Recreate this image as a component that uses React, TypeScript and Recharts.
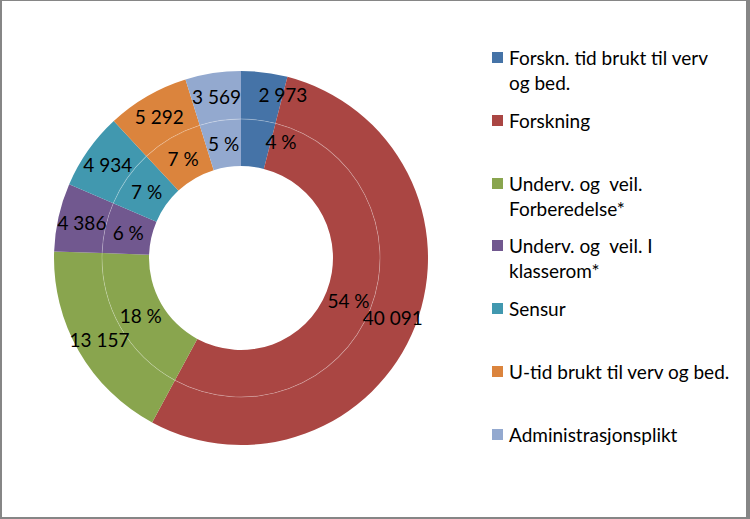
import React from 'react';
import { PieChart, Pie, Cell, Legend } from 'recharts';

const categories = [
  'Forskn. tid brukt til verv\nog bed.',
  'Forskning',
  'Underv. og  veil.\nForberedelse*',
  'Underv. og  veil. I\nklasserom*',
  'Sensur',
  'U-tid brukt til verv og bed.',
  'Administrasjonsplikt',
];

const hours = [2973, 40091, 13157, 4386, 4934, 5292, 3569];

const COLORS = ['#4573A7', '#AA4643', '#89A54E', '#71588F', '#4198AF', '#DB843D', '#93A9CF'];

const FONT = 'Lato, "Open Sans", sans-serif';
const RADIAN = Math.PI / 180;

const chartData = categories.map((name, i) => ({ name, value: hours[i] }));

const fmt = (n: number) => String(n).replace(/\B(?=(\d{3})+(?!\d))/g, ' ');

// labels sit in the middle of each ring; the first (thin) slice is pushed right like Excel does
const ringLabel = (kind: 'pct' | 'val') => (props: any) => {
  const { cx, cy, midAngle, innerRadius, outerRadius, percent, value, index } = props;
  const r = (innerRadius + outerRadius) / 2;
  const x = cx + r * Math.cos(-midAngle * RADIAN);
  const y = cy + r * Math.sin(-midAngle * RADIAN);
  const text = kind === 'pct' ? `${Math.round(percent * 100)} %` : fmt(value);
  const first = index === 0;
  return (
    <text
      x={first ? x + (kind === 'pct' ? 10 : -3) : x}
      y={first ? y - 2 : y}
      textAnchor={first ? 'start' : 'middle'}
      dominantBaseline="central"
      fill="#000"
      fontSize={19}
      fontFamily={FONT}
    >
      {text}
    </text>
  );
};

const renderLegend = () => (
  <div style={{ fontFamily: FONT, fontSize: 19, color: '#000' }}>
    {categories.map((name, i) => (
      <div key={`leg-${i}`} style={{ height: 62.8, display: 'flex', alignItems: 'flex-start' }}>
        <span style={{ width: 11, height: 11, background: COLORS[i], marginTop: 7, marginRight: 6, flexShrink: 0 }} />
        <span style={{ whiteSpace: 'pre', lineHeight: '25px' }}>{name}</span>
      </div>
    ))}
  </div>
);

export default function App() {
  return (
    <div style={{ position: 'relative', width: 750, height: 519, background: '#fff' }}>
      <style>{`body{margin:0}`}</style>
      <PieChart width={750} height={519} margin={{ top: 0, right: 0, bottom: 0, left: 0 }}>
        <Pie
          data={chartData}
          dataKey="value"
          nameKey="name"
          cx={241}
          cy={258}
          innerRadius={92}
          outerRadius={139}
          startAngle={90}
          endAngle={-270}
          stroke="none"
          legendType="none"
          label={ringLabel('pct')}
          labelLine={false}
          isAnimationActive={false}
        >
          {chartData.map((_, i) => (
            <Cell key={`in-${i}`} fill={COLORS[i]} />
          ))}
        </Pie>
        <Pie
          data={chartData}
          dataKey="value"
          nameKey="name"
          cx={241}
          cy={258}
          innerRadius={139}
          outerRadius={187}
          startAngle={90}
          endAngle={-270}
          stroke="none"
          label={ringLabel('val')}
          labelLine={false}
          isAnimationActive={false}
        >
          {chartData.map((_, i) => (
            <Cell key={`out-${i}`} fill={COLORS[i]} />
          ))}
        </Pie>
        {/* faint seam between the two rings */}
        <Pie
          data={chartData}
          dataKey="value"
          cx={241}
          cy={258}
          innerRadius={138.6}
          outerRadius={139.4}
          startAngle={90}
          endAngle={-270}
          stroke="none"
          fill="rgba(255,255,255,0.3)"
          legendType="none"
          isAnimationActive={false}
        />
        <Legend
          layout="vertical"
          align="right"
          verticalAlign="top"
          content={renderLegend}
          wrapperStyle={{ position: 'absolute', left: 492, top: 45, width: 255 }}
        />
      </PieChart>
      <div
        style={{
          position: 'absolute',
          inset: 0,
          borderStyle: 'solid',
          borderColor: '#868686',
          borderWidth: '1px 4px 2px 2px',
          pointerEvents: 'none',
        }}
      />
    </div>
  );
}
